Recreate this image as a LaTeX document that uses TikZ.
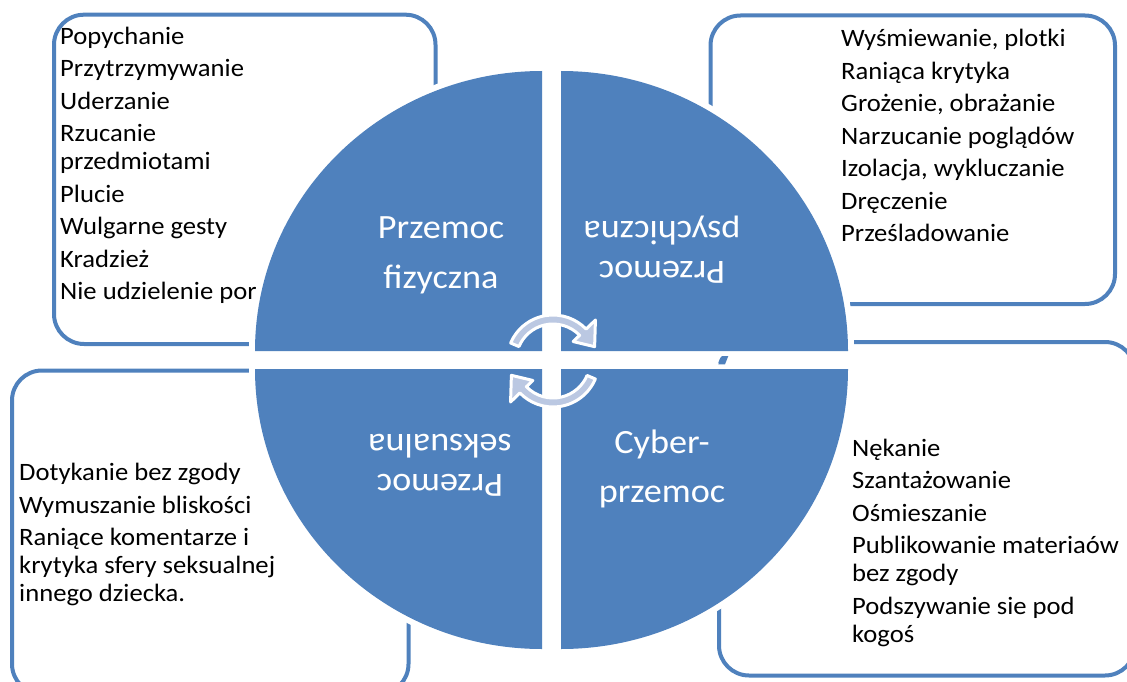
\documentclass[tikz,border=0pt]{standalone}
\usepackage{fontspec}
\setmainfont{Carlito}[FakeStretch=1.065]
\definecolor{quadblue}{RGB}{79,129,189}
\definecolor{arrowgrey}{RGB}{187,200,226}

\begin{document}
\begin{tikzpicture}[x=1pt, y=-1pt,
    listbox/.style={draw=quadblue, line width=4pt, rounded corners=30pt, fill=white, inner sep=0pt, outer sep=0pt},
    listtext/.style={anchor=north west, inner sep=0pt, align=left, font=\fontsize{25}{28}\selectfont},
    quadlabel/.style={anchor=north, inner sep=0pt, align=center, text=white},
    cycarrow/.style={fill=arrowgrey, draw=white, line width=3pt, line join=round}]
\clip (0,0) rectangle (1127,682);

% boxes behind the circle
\node[listbox, minimum width=381.5, minimum height=329.3] (boxFiz) at (244.75,179.35) {};
\node[listbox, minimum width=404.5, minimum height=288.5] (boxPsy) at (912.75,159.75) {};
\node[listbox, minimum width=396.5, minimum height=323.5] (boxSeks) at (210.25,532.25) {};
\node[listbox, minimum width=416, minimum height=333.5] (boxCyber) at (927,508.75) {};

\node[listtext] (listFiz) at (60,19) {\rule{0pt}{25pt}Popychanie\\[4.5pt]Przytrzymywanie\\[4.5pt]Uderzanie\\[4.5pt]Rzucanie\\przedmiotami\\[4.5pt]Plucie\\[4.5pt]Wulgarne gesty\\[4.5pt]Kradzież\\[4.5pt]Nie udzielenie por};
\node[listtext] (listPsy) at (841,21.7) {\rule{0pt}{25pt}Wyśmiewanie, plotki\\[4.5pt]Raniąca krytyka\\[4.5pt]Grożenie, obrażanie\\[4.5pt]Narzucanie poglądów\\[4.5pt]Izolacja, wykluczanie\\[4.5pt]Dręczenie\\[4.5pt]Prześladowanie};
\node[listtext] (listSeks) at (19,455.7) {\rule{0pt}{25pt}Dotykanie bez zgody\\[4.5pt]Wymuszanie bliskości\\[4.5pt]Raniące komentarze i\\krytyka sfery seksualnej\\innego dziecka.};
\node[listtext] (listCyber) at (852,431) {\rule{0pt}{25pt}Nękanie\\[4.5pt]Szantażowanie\\[4.5pt]Ośmieszanie\\[4.5pt]Publikowanie materiaów\\bez zgody\\[4.5pt]Podszywanie sie pod\\kogoś};

% four quarters, white halo first
\foreach \cx/\cy/\sa in {542/351/180, 561/351/270, 561/369/0, 542/369/90}
  \draw[white, line width=12pt, line join=round] (\cx,\cy) -- ++(\sa:287 and 280) arc[start angle=\sa, delta angle=90, x radius=287, y radius=280] -- cycle;
\foreach \cx/\cy/\sa in {542/351/180, 561/351/270, 561/369/0, 542/369/90}
  \fill[quadblue] (\cx,\cy) -- ++(\sa:287 and 280) arc[start angle=\sa, delta angle=90, x radius=287, y radius=280] -- cycle;

\node[quadlabel, font=\fontsize{34}{50.5}\selectfont] (labFiz) at (441,210) {\rule{0pt}{28pt}Przemoc\\fizyczna};
\node[quadlabel, font=\fontsize{34}{40}\selectfont, rotate=180] (labPsy) at (662,290) {\rule{0pt}{28pt}Przemoc\\psychiczna};
\node[quadlabel, font=\fontsize{34}{40}\selectfont, rotate=180] (labSeks) at (440,503) {\rule{0pt}{28pt}Przemoc\\seksualna};
\node[quadlabel, font=\fontsize{34}{49.5}\selectfont] (labCyber) at (662,425) {\rule{0pt}{28pt}Cyber-\\przemoc};

% the two turning arrows
\begin{scope}[shift={(553,361)}]
  \filldraw[cycarrow] (203:46) arc[start angle=203, end angle=316, radius=46] -- (316:59) -- (341:44) -- (316:28) -- (316:37) arc[start angle=316, end angle=203, radius=37] -- cycle;
  \filldraw[cycarrow] (23:46) arc[start angle=23, end angle=136, radius=46] -- (136:59) -- (161:44) -- (136:28) -- (136:37) arc[start angle=136, end angle=23, radius=37] -- cycle;
\end{scope}

\fill[quadblue] (721.7,356) -- (728.3,356) -- (725,364.3) -- (718.3,364.3) -- cycle;
\end{tikzpicture}
\end{document}
